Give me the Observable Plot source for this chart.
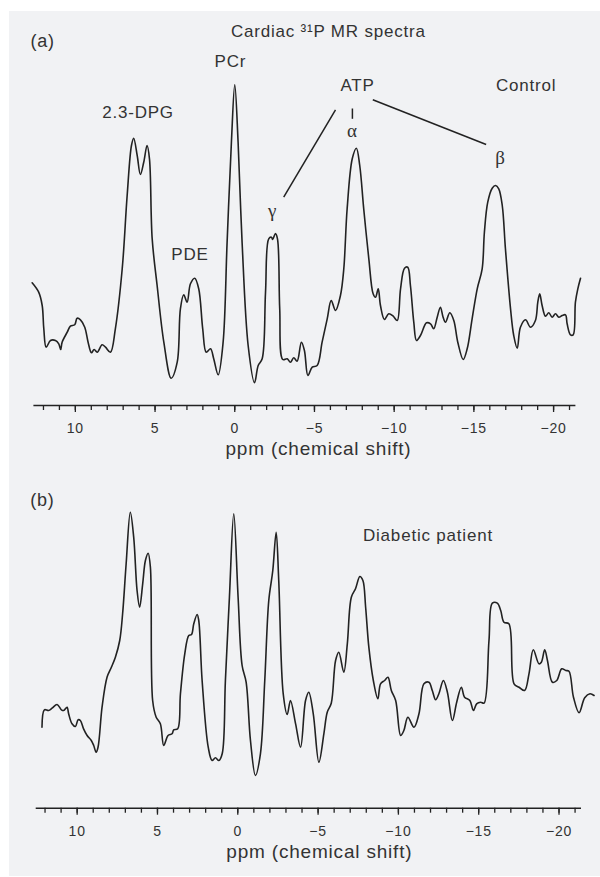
<!DOCTYPE html>
<html>
<head>
<meta charset="utf-8">
<script src="https://cdn.jsdelivr.net/npm/d3@7"></script>
<script src="https://cdn.jsdelivr.net/npm/@observablehq/plot@0.6"></script>
<style>
  html, body { margin: 0; padding: 0; background: #ffffff; }
  #wrap { position: relative; width: 600px; height: 877px; overflow: hidden; }
  #panelbg { position: absolute; left: 9px; top: 11px; width: 591px; height: 865px; background: #f1f2f4; }
  #top, #bot { position: absolute; left: 0; }
  #top { top: 0; }
  #bot { top: 460px; }
</style>
</head>
<body>
<div id="wrap">
  <div id="panelbg"></div>
  <div id="top"></div>
  <div id="bot"></div>
</div>
<script>
// ---- Control spectrum (a): chemical shift (ppm) and intensity (arbitrary units)
const ctrlPpm = [12.71,12.30,12.08,11.98,11.83,11.56,11.25,11.04,10.92,10.83,10.51,10.31,10.04,9.89,9.68,9.41,9.20,8.99,8.82,8.63,8.32,8.11,7.80,7.49,7.06,6.75,6.48,6.34,6.12,5.92,5.71,5.50,5.35,5.18,4.87,4.45,3.99,3.61,3.41,3.20,2.99,2.78,2.51,2.26,2.01,1.79,1.52,1.32,1.04,0.73,0.48,0.21,0,-0.21,-0.46,-0.84,-1.24,-1.47,-1.72,-1.93,-2.13,-2.30,-2.38,-2.55,-2.68,-2.82,-3.01,-3.29,-3.49,-3.70,-3.91,-4.18,-4.37,-4.59,-4.86,-5.17,-5.48,-5.80,-6.05,-6.32,-6.63,-6.84,-7.05,-7.37,-7.63,-7.84,-8.09,-8.41,-8.68,-8.83,-9.00,-9.14,-9.39,-9.66,-9.94,-10.19,-10.40,-10.65,-10.85,-11.02,-11.23,-11.40,-11.65,-12.03,-12.28,-12.48,-12.70,-12.90,-13.07,-13.22,-13.49,-13.74,-13.99,-14.33,-14.58,-14.89,-15.21,-15.52,-15.66,-15.87,-16.15,-16.36,-16.56,-16.78,-16.98,-17.30,-17.50,-17.72,-17.92,-18.24,-18.55,-18.86,-19.01,-19.13,-19.28,-19.49,-19.70,-19.91,-20.12,-20.33,-20.54,-20.75,-20.85,-21.06,-21.23,-21.37,-21.52,-21.69];
const ctrlInt = [117.7,108.3,95,72,53.3,60,60,56.7,51,58.3,68.3,74.3,75.7,82.3,80.7,73.3,58.3,47.7,51,48.3,55.7,53.3,48.3,71.7,131.7,205,255,262.3,245,226,238.3,255,241.7,161.7,115,58.3,22.3,38.3,91.7,105.7,98.3,116.7,122.3,111.7,71.7,48.3,51.7,41.7,25.7,58.3,158.3,258.3,315.7,258.3,158.3,55,17.7,35,41.7,108.3,161.7,163.3,161,167,161.7,91.7,41,41.7,38.3,42.7,39.3,58.3,50,25,33.3,35,58.3,81.7,100,90,105,131.7,191.7,241.7,252.3,235,191.7,141.7,106.7,103.3,111.7,95,81,86.7,84.3,80,111.7,132.3,133.3,115,78.3,60,65,77.7,76.7,71.7,83.3,93.3,83.3,78.3,87.7,80,58.3,41,51.7,81.7,111.7,131.7,168.3,198.3,212.3,215,211.7,195,151.7,91.7,65,52.3,73.3,80.7,73.3,80,98.3,106.7,95,84.3,87.7,83.3,86.7,83.3,85,85.7,76.7,65.7,65.7,98.3,111.7,122.3];

// ---- Diabetic patient spectrum (b)
const diabPpm = [12.19,12.04,11.78,11.56,11.25,10.98,10.84,10.63,10.53,10.32,10.11,9.94,9.80,9.60,9.38,9.12,8.97,8.82,8.70,8.45,8.14,7.87,7.62,7.35,7.17,6.95,6.69,6.48,6.27,6.11,5.92,5.75,5.58,5.44,5.30,5.08,4.82,4.61,4.34,4.09,3.99,3.74,3.57,3.30,3.05,2.88,2.74,2.53,2.43,2.22,1.84,1.60,1.39,1.18,0.97,0.77,0.52,0.25,-0.02,-0.27,-0.52,-0.79,-1.10,-1.41,-1.68,-1.93,-2.18,-2.39,-2.55,-2.83,-3.08,-3.28,-3.60,-3.91,-4.22,-4.42,-4.70,-5.05,-5.36,-5.57,-5.82,-6.09,-6.29,-6.60,-6.82,-7.07,-7.33,-7.60,-7.79,-7.96,-8.16,-8.44,-8.72,-8.89,-9.14,-9.35,-9.56,-9.83,-10.14,-10.34,-10.59,-10.97,-11.28,-11.59,-11.90,-12.11,-12.32,-12.52,-12.80,-13.05,-13.36,-13.63,-13.92,-14.12,-14.45,-14.67,-14.87,-15.12,-15.33,-15.64,-15.85,-16.16,-16.37,-16.57,-16.88,-17.20,-17.51,-17.86,-18.13,-18.40,-18.75,-18.90,-19.11,-19.28,-19.59,-19.86,-20.17,-20.42,-20.62,-20.90,-21.25,-21.60,-21.93,-22.18];
const diabInt = [73.3,90.7,90,92.3,96,90.7,90,93.3,86.7,76.7,74,80.7,80,71.7,65,60,55,48.3,53.3,93.3,123.3,133.3,143.3,160,186.7,236.7,288.3,263.3,210,193.3,216.7,240,247.3,233.3,100,83.3,76.7,55,65,66.7,70.7,71.7,106.7,146.7,165,166,176.7,186,180,120,53.3,40,42.7,40,46.7,120,203.3,286.7,203.3,135,118.3,60,25,46.7,120,200,230,268.3,220,106.7,86,100,76.7,53.3,100,108.3,86.7,38.3,66.7,88.3,97.3,140,148.3,128.3,156.7,203.3,211.7,224,220,193.3,153.3,120,101.7,116.7,120,123.3,110,100,65,70,83.3,73.3,86.7,116.7,118.3,110,100.7,106.7,120,108.3,80,98.3,113.3,103.3,100,90,96.7,98.3,97.3,160,197.3,197.3,190,178.3,176.7,116.7,113.3,110,126.7,150.7,136.7,138.3,150.7,140,118.3,120,131.7,130,129.3,103.3,87.7,102.7,106.7,105];

// ---- Axis ticks
const majorTicks = [10, 5, 0, -5, -10, -15, -20];
const minorTicks = d3.range(-21, 13);
const axisTitle = "ppm (chemical shift)";

// ---- Annotations (a)
const titleText = "Cardiac \u00B3\u00B9P MR spectra";
const ctrlLabels = ["2.3-DPG", "PCr", "PDE", "ATP", "Control"];
const ctrlLabelPpm = [6.07, 0.27, 2.81, -7.70, -18.28];
const ctrlLabelInt = [288, 339, 145.5, 314.5, 314.5];
const greekLabels = ["\u03B3", "\u03B1", "\u03B2"];
const greekPpm = [-2.37, -7.38, -16.67];
const greekInt = [189.5, 270, 243];
const linkX1 = [-6.32, -8.66, -7.38];
const linkY1 = [290.7, 300.7, 292];
const linkX2 = [-3.07, -15.77, -7.38];
const linkY2 = [203.3, 256, 281.7];

const ctrl = ctrlPpm.map((p, i) => ({ppm: p, intensity: ctrlInt[i]}));
const diab = diabPpm.map((p, i) => ({ppm: p, intensity: diabInt[i]}));

const ink = "#222";
const txt = "#333";
const sans = "'Liberation Sans', Arial, Helvetica, sans-serif";
const serif = "'Liberation Serif', 'DejaVu Serif', serif";
const minus = d => d < 0 ? "\u2212" + (-d) : String(d);

function axisMarks(yMin, titleX, titleY) {
  return [
    Plot.ruleY([yMin], {stroke: ink, strokeWidth: 1.5}),
    Plot.axisX({ticks: minorTicks, tickSize: 5, tickFormat: () => "", stroke: ink, strokeWidth: 1.3, label: null}),
    Plot.axisX({ticks: majorTicks, tickSize: 7, tickPadding: 11, tickFormat: minus, fontSize: 14, fill: txt, stroke: ink, strokeWidth: 1.3, label: null}),
    Plot.text([axisTitle], {x: [titleX], y: [titleY], fontSize: 19, fill: txt, fontFamily: sans})
  ];
}

const common = {
  width: 600,
  style: {background: "transparent", fontFamily: sans, overflow: "visible", letterSpacing: "0.8px", color: ink}
};

const topChart = Plot.plot({
  ...common,
  height: 460,
  marginLeft: 33.4, marginRight: 24.6, marginTop: 80, marginBottom: 55,
  x: {domain: [12.6, -21.4], label: null},
  y: {domain: [-5, 320], axis: null},
  marks: [
    ...axisMarks(-5, -5.25, -48.2),
    Plot.line(ctrl, {x: "ppm", y: "intensity", stroke: ink, strokeWidth: 1.6, curve: "catmull-rom"}),
    Plot.text(ctrlLabels, {x: ctrlLabelPpm, y: ctrlLabelInt, fontSize: 17, fill: txt, fontFamily: sans}),
    Plot.text(greekLabels, {x: greekPpm, y: greekInt, fontSize: 19, fill: txt, fontFamily: serif}),
    Plot.link(linkX1, {x1: linkX1, y1: linkY1, x2: linkX2, y2: linkY2, stroke: ink, strokeWidth: 1.5}),
    Plot.text([titleText], {x: [-5.87], y: [369], fontSize: 17, fill: txt, fontFamily: sans}),
    Plot.text(["(a)"], {x: [12.82], y: [359], fontSize: 18, fill: txt, textAnchor: "start", fontFamily: sans})
  ]
});

const botChart = Plot.plot({
  ...common,
  height: 417,
  marginLeft: 35.7, marginRight: 19, marginTop: 40, marginBottom: 69.3,
  x: {domain: [12.55, -21.4], label: null},
  y: {domain: [-7.7, 300], axis: null},
  marks: [
    ...axisMarks(-7.7, -5.08, -51.2),
    Plot.line(diab, {x: "ppm", y: "intensity", stroke: ink, strokeWidth: 1.6, curve: "catmull-rom"}),
    Plot.text(["Diabetic patient"], {x: [-11.84], y: [264.5], fontSize: 17, fill: txt, fontFamily: sans}),
    Plot.text(["(b)"], {x: [12.92], y: [300], fontSize: 18, fill: txt, textAnchor: "start", fontFamily: sans})
  ]
});

document.getElementById("top").appendChild(topChart);
document.getElementById("bot").appendChild(botChart);
</script>
</body>
</html>
